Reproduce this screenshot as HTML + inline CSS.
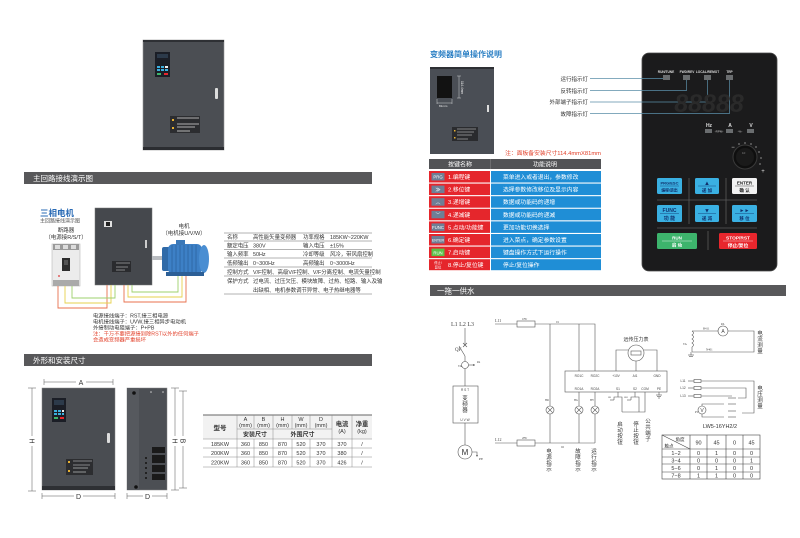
<!DOCTYPE html>
<html><head><meta charset="utf-8"><style>
html,body{margin:0;padding:0;background:#fff;width:800px;height:538px;overflow:hidden}
svg{display:block}
text{font-family:"Liberation Sans","Noto Sans CJK SC",sans-serif}
.s{font-family:"Liberation Serif","Noto Serif CJK SC",serif}
</style></head><body>
<svg width="800" height="538" viewBox="0 0 800 538" xmlns="http://www.w3.org/2000/svg">
<rect width="800" height="538" fill="#fff"/>

<!-- ===== LEFT PAGE ===== -->
<!-- top cabinet -->
<rect x="143" y="40" width="81" height="110" fill="#4b4e53" stroke="#9a9a9a" stroke-width="0.6"/>
<rect x="143" y="40" width="81" height="2" fill="#2e3034"/>
<rect x="143" y="147" width="81" height="3" fill="#2b2d31"/>
<rect x="155" y="52" width="15" height="25" fill="#1b1e26"/>
<rect x="157" y="54" width="11" height="4" fill="#2c3a4a"/>
<g fill="#3bb0e0"><rect x="157" y="66" width="3" height="2"/><rect x="161" y="66" width="3" height="2"/><rect x="157" y="69" width="3" height="2"/><rect x="161" y="69" width="3" height="2"/></g>
<rect x="165" y="66" width="3" height="2" fill="#eee"/><rect x="165" y="69" width="3" height="2" fill="#3bb0e0"/>
<rect x="157" y="73" width="4" height="2" fill="#3fb56b"/><rect x="164" y="73" width="4" height="2" fill="#e8262d"/>
<rect x="215" y="88" width="3" height="11" rx="1" fill="#ddd"/>
<rect x="170" y="116" width="30" height="17" fill="#2c2d30"/>
<g stroke="#ddd" stroke-width="0.8"><line x1="177" y1="118" x2="199" y2="118"/><line x1="177" y1="124" x2="199" y2="124"/><line x1="177" y1="127" x2="195" y2="127"/><line x1="177" y1="131" x2="190" y2="131"/></g>
<rect x="172" y="119" width="2" height="2" fill="#e8b030"/><rect x="172" y="127" width="2" height="2" fill="#e8b030"/>

<!-- header bar 1 -->
<rect x="24" y="172" width="348" height="12" fill="#58585a"/>
<text x="33" y="181" font-size="7.5" fill="#fff">主回路接线演示图</text>

<!-- wiring demo -->
<text x="40" y="216" font-size="8.5" font-weight="bold" fill="#2a6bb5">三相电机</text>
<text x="40" y="222.5" font-size="5" fill="#555">主回路接线演示图</text>
<text x="66" y="232" font-size="5.5" fill="#333" text-anchor="middle">断路器</text>
<text x="66" y="239" font-size="5.5" fill="#333" text-anchor="middle">（电源接R/S/T）</text>
<!-- breaker -->
<rect x="52" y="244" width="28" height="42" fill="#ececec" stroke="#b8b8b8" stroke-width="0.6"/>
<rect x="53" y="244" width="26" height="6" fill="#9a9a9a"/>
<rect x="55" y="245" width="5" height="4" fill="#ddd"/><rect x="63" y="245" width="5" height="4" fill="#ddd"/><rect x="71" y="245" width="5" height="4" fill="#ddd"/>
<rect x="62" y="258" width="8" height="13" fill="#2e2e2e"/>
<rect x="64" y="260" width="4" height="5" fill="#555"/>
<circle cx="59" cy="276" r="0.9" fill="#d33"/>
<rect x="53" y="280" width="26" height="6" fill="#aaa"/>
<!-- cabinet -->
<rect x="95" y="208" width="57" height="77" fill="#45484d" stroke="#777" stroke-width="0.5"/>
<rect x="104" y="221" width="8" height="6" fill="#e0e0e0"/><rect x="106" y="222" width="4" height="4" fill="#222"/>
<rect x="145" y="240" width="2" height="8" fill="#ccc"/>
<rect x="112" y="261" width="19" height="11" fill="#2a2b2e"/>
<g stroke="#ddd" stroke-width="0.5"><line x1="116" y1="263" x2="130" y2="263"/><line x1="116" y1="267" x2="128" y2="267"/><line x1="116" y1="270" x2="125" y2="270"/></g>
<!-- motor -->
<text x="184" y="228" font-size="5.5" fill="#333" text-anchor="middle">电机</text>
<text x="184" y="235" font-size="5.5" fill="#333" text-anchor="middle">（电机接U/V/W）</text>
<rect x="152" y="256" width="12" height="4" fill="#b9bcc0"/>
<rect x="162" y="247" width="8" height="24" rx="2" fill="#2f6aa8"/>
<rect x="168" y="244" width="34" height="30" rx="5" fill="#3d80c6"/>
<g stroke="#2d64a0" stroke-width="0.8"><line x1="172" y1="245" x2="172" y2="273"/><line x1="176" y1="245" x2="176" y2="273"/><line x1="180" y1="245" x2="180" y2="273"/><line x1="184" y1="245" x2="184" y2="273"/><line x1="188" y1="245" x2="188" y2="273"/><line x1="192" y1="245" x2="192" y2="273"/><line x1="196" y1="245" x2="196" y2="273"/></g>
<ellipse cx="204" cy="259" rx="5" ry="14" fill="#4a8ed2"/>
<rect x="176" y="240" width="9" height="5" fill="#3a78b8"/>
<rect x="166" y="272" width="38" height="4" fill="#2c5f96"/>
<!-- wires -->
<g fill="none" stroke-width="0.9">
<polyline points="58,286 58,308 107,308 107,285" stroke="#e8704e"/>
<polyline points="65,286 65,303 111,303 111,285" stroke="#e6d14c"/>
<polyline points="72,286 72,298 115,298 115,285" stroke="#9ed06c"/>
<polyline points="124,285 124,302 186,302 186,276" stroke="#e8704e"/>
<polyline points="128,285 128,297 182,297 182,276" stroke="#e6d14c"/>
<polyline points="132,285 132,292 178,292 178,276" stroke="#9ed06c"/>
</g>
<g font-size="5.3" fill="#333">
<text x="93" y="317.5">电源接线端子：RST,接三相电源</text>
<text x="93" y="323.5">电机接线端子：UVW,接三相异步电动机</text>
<text x="93" y="329.5">外接制动电阻端子：P+PB</text>
<text x="93" y="335.5" fill="#e2402a">注：千万不要把源接到除RST以外的任何端子</text>
<text x="93" y="341.5" fill="#e2402a">会造成变频器严重损坏</text>
</g>
<!-- spec table -->
<g stroke="#666" stroke-width="0.5">
<line x1="224" y1="233" x2="372" y2="233"/><line x1="224" y1="241" x2="372" y2="241"/><line x1="224" y1="249.5" x2="372" y2="249.5"/><line x1="224" y1="258" x2="372" y2="258"/><line x1="224" y1="267" x2="372" y2="267"/><line x1="224" y1="276" x2="372" y2="276"/><line x1="224" y1="294" x2="372" y2="294"/>
</g>
<g font-size="5.4" fill="#333">
<text x="227" y="239">名称</text><text x="253" y="239">高性能矢量变频器</text><text x="303" y="239">功率规格</text><text x="330" y="239">185KW~220KW</text>
<text x="227" y="247.5">额定电压</text><text x="253" y="247.5">380V</text><text x="303" y="247.5">输入电压</text><text x="330" y="247.5">±15%</text>
<text x="227" y="256">输入频率</text><text x="253" y="256">50Hz</text><text x="303" y="256">冷却等级</text><text x="330" y="256">风冷，带风扇控制</text>
<text x="227" y="265">低频输出</text><text x="253" y="265">0~300Hz</text><text x="303" y="265">高频输出</text><text x="330" y="265">0~3000Hz</text>
<text x="227" y="274">控制方式</text><text x="253" y="274">V/F控制、高级V/F控制、V/F分离控制、电流矢量控制</text>
<text x="227" y="283">保护方式</text><text x="253" y="283">过电流、过压欠压、模块故障、过热、短路、输入及输</text>
<text x="253" y="292">出缺相、电机参数调节异常、电子热继电器等</text>
</g>

<!-- header bar 2 -->
<rect x="24" y="354" width="348" height="12" fill="#58585a"/>
<text x="33" y="363" font-size="7.5" fill="#fff">外形和安装尺寸</text>

<!-- dimension front -->
<rect x="42" y="388" width="73" height="102" fill="#4a4d52" stroke="#888" stroke-width="0.5"/>
<rect x="42" y="486" width="73" height="4" fill="#2e3034"/>
<rect x="52" y="398" width="14" height="24" fill="#1b1e26"/>
<rect x="54" y="400" width="10" height="5" fill="#2c3a4a"/>
<g fill="#3bb0e0"><rect x="54" y="410" width="3" height="2"/><rect x="58" y="410" width="3" height="2"/><rect x="54" y="413" width="3" height="2"/><rect x="58" y="413" width="3" height="2"/><rect x="62" y="413" width="2" height="2"/></g>
<rect x="62" y="410" width="2" height="2" fill="#eee"/>
<rect x="54" y="417" width="4" height="2" fill="#3fb56b"/><rect x="60" y="417" width="4" height="2" fill="#e8262d"/>
<rect x="107" y="433" width="3" height="10" rx="1" fill="#ddd"/>
<rect x="66" y="459" width="27" height="16" fill="#2c2d30"/>
<g stroke="#ddd" stroke-width="0.6"><line x1="73" y1="461" x2="92" y2="461"/><line x1="73" y1="465" x2="90" y2="465"/><line x1="73" y1="468" x2="88" y2="468"/><line x1="73" y1="472" x2="86" y2="472"/></g>
<rect x="68" y="461" width="2" height="2" fill="#e8b030"/><rect x="68" y="470" width="2" height="2" fill="#e8b030"/>
<!-- dims -->
<g stroke="#555" stroke-width="0.5" fill="none">
<line x1="44" y1="382" x2="76" y2="382"/><line x1="86" y1="382" x2="113" y2="382"/><line x1="44" y1="379" x2="44" y2="385"/><line x1="113" y1="379" x2="113" y2="385"/>
<line x1="32" y1="388" x2="32" y2="436"/><line x1="32" y1="446" x2="32" y2="491"/><line x1="28" y1="388" x2="36" y2="388"/><line x1="28" y1="491" x2="36" y2="491"/>
<line x1="42" y1="496" x2="74" y2="496"/><line x1="83" y1="496" x2="115" y2="496"/><line x1="42" y1="493" x2="42" y2="499"/><line x1="115" y1="493" x2="115" y2="499"/>
<line x1="127" y1="496" x2="143" y2="496"/><line x1="152" y1="496" x2="167" y2="496"/><line x1="127" y1="493" x2="127" y2="499"/><line x1="167" y1="493" x2="167" y2="499"/>
<line x1="175" y1="388" x2="175" y2="436"/><line x1="175" y1="446" x2="175" y2="490"/><line x1="171" y1="388" x2="179" y2="388"/><line x1="171" y1="490" x2="179" y2="490"/>
<line x1="183" y1="391" x2="183" y2="436"/><line x1="183" y1="446" x2="183" y2="488"/><line x1="179" y1="391" x2="187" y2="391"/><line x1="179" y1="488" x2="187" y2="488"/>
</g>
<g font-size="7" fill="#333">
<text x="81" y="385" text-anchor="middle">A</text>
<text x="78.5" y="499" text-anchor="middle">D</text>
<text x="147.5" y="499" text-anchor="middle">D</text>
<text transform="translate(29.5,441) rotate(90)" text-anchor="middle">H</text>
<text transform="translate(172.5,441) rotate(90)" text-anchor="middle">H</text>
<text transform="translate(180.5,441) rotate(90)" text-anchor="middle">B</text>
</g>
<!-- side view -->
<rect x="127" y="388" width="40" height="102" fill="#4c4f54" stroke="#888" stroke-width="0.5"/>
<rect x="127" y="388" width="12" height="102" fill="#56595e"/>
<circle cx="134" cy="393" r="1.8" fill="#111"/><circle cx="136" cy="487" r="1.8" fill="#111"/>
<circle cx="151" cy="392" r="0.8" fill="#ccc"/><circle cx="163" cy="392" r="0.8" fill="#ccc"/>
<rect x="152" y="447" width="13" height="6" fill="#1a1a1a"/><rect x="152" y="455" width="13" height="8" fill="#1a1a1a"/><rect x="152" y="465" width="13" height="7" fill="#1a1a1a"/><rect x="152" y="474" width="13" height="6" fill="#1a1a1a"/>
<g fill="#222"><rect x="145" y="457" width="2" height="2"/><rect x="145" y="462" width="2" height="2"/><rect x="145" y="467" width="2" height="2"/><rect x="145" y="472" width="2" height="2"/><rect x="145" y="477" width="2" height="2"/></g>
<!-- dimension table -->
<rect x="203" y="415" width="169" height="24" fill="#f2f2f2"/>
<g stroke="#888" stroke-width="0.5" fill="none">
<line x1="203" y1="415" x2="372" y2="415" stroke="#666" stroke-width="1"/>
<line x1="237" y1="429" x2="332" y2="429"/>
<line x1="203" y1="439" x2="372" y2="439"/><line x1="203" y1="448" x2="372" y2="448"/><line x1="203" y1="457" x2="372" y2="457"/><line x1="203" y1="467" x2="372" y2="467"/>
<line x1="237" y1="415" x2="237" y2="467"/><line x1="254" y1="415" x2="254" y2="429"/><line x1="254" y1="439" x2="254" y2="467"/>
<line x1="273" y1="415" x2="273" y2="467"/><line x1="292" y1="415" x2="292" y2="429"/><line x1="292" y1="439" x2="292" y2="467"/>
<line x1="310" y1="415" x2="310" y2="429"/><line x1="310" y1="439" x2="310" y2="467"/>
<line x1="332" y1="415" x2="332" y2="467"/><line x1="352" y1="415" x2="352" y2="467"/>
</g>
<g font-size="5.5" fill="#333" text-anchor="middle">
<text x="220" y="430" font-size="6.5" font-weight="bold">型号</text>
<text x="245.5" y="421">A</text><text x="245.5" y="427">(mm)</text>
<text x="263.5" y="421">B</text><text x="263.5" y="427">(mm)</text>
<text x="282.5" y="421">H</text><text x="282.5" y="427">(mm)</text>
<text x="301" y="421">W</text><text x="301" y="427">(mm)</text>
<text x="321" y="421">D</text><text x="321" y="427">(mm)</text>
<text x="342" y="426" font-size="6.3" font-weight="bold">电流</text><text x="342" y="433">(A)</text>
<text x="362" y="426" font-size="6.3" font-weight="bold">净重</text><text x="362" y="433">(kg)</text>
<text x="255" y="436.5" font-size="6" font-weight="bold">安装尺寸</text>
<text x="302.5" y="436.5" font-size="6" font-weight="bold">外围尺寸</text>
<text x="220" y="446">185KW</text><text x="245.5" y="446">360</text><text x="263.5" y="446">850</text><text x="282.5" y="446">870</text><text x="301" y="446">520</text><text x="321" y="446">370</text><text x="342" y="446">370</text><text x="362" y="446">/</text>
<text x="220" y="455">200KW</text><text x="245.5" y="455">360</text><text x="263.5" y="455">850</text><text x="282.5" y="455">870</text><text x="301" y="455">520</text><text x="321" y="455">370</text><text x="342" y="455">380</text><text x="362" y="455">/</text>
<text x="220" y="464.5">220KW</text><text x="245.5" y="464.5">360</text><text x="263.5" y="464.5">850</text><text x="282.5" y="464.5">870</text><text x="301" y="464.5">520</text><text x="321" y="464.5">370</text><text x="342" y="464.5">426</text><text x="362" y="464.5">/</text>
</g>

<!-- ===== RIGHT PAGE ===== -->
<text x="430" y="57" font-size="8" font-weight="bold" fill="#2a7fc4">变频器简单操作说明</text>
<!-- cabinet -->
<rect x="430" y="67" width="64" height="87" fill="#4a4e55"/>
<rect x="430" y="67" width="64" height="2" fill="#2e3034"/>
<rect x="437" y="76" width="15" height="22" fill="#121212"/>
<g stroke="#eee" stroke-width="0.4" fill="none"><line x1="459" y1="76" x2="459" y2="98"/><line x1="457" y1="76" x2="461" y2="76"/><line x1="457" y1="98" x2="461" y2="98"/><line x1="437" y1="103" x2="452" y2="103"/><line x1="437" y1="99" x2="437" y2="104"/><line x1="452" y1="99" x2="452" y2="104"/></g>
<text transform="translate(461,81) rotate(90)" font-size="3.2" fill="#eee">114.4mm</text>
<text x="439" y="107" font-size="3" fill="#eee">81mm</text>
<rect x="487" y="105" width="2" height="7" fill="#ddd"/>
<rect x="452" y="127" width="26" height="14" fill="#2a2b2e"/>
<g stroke="#ddd" stroke-width="0.5"><line x1="457" y1="129" x2="476" y2="129"/><line x1="457" y1="132" x2="474" y2="132"/><line x1="457" y1="135" x2="472" y2="135"/><line x1="457" y1="139" x2="468" y2="139"/></g>
<rect x="454" y="130" width="1.5" height="1.5" fill="#e8b030"/><rect x="454" y="137" width="1.5" height="1.5" fill="#e8b030"/>
<!-- indicator labels -->
<g font-size="5.5" fill="#333" text-anchor="end">
<text x="588" y="81">运行指示灯</text>
<text x="588" y="93">反转指示灯</text>
<text x="588" y="104">外部端子指示灯</text>
<text x="588" y="116">故障指示灯</text>
</g>
<text x="601" y="155" font-size="5.8" fill="#e2402a" text-anchor="end">注：面板备安装尺寸114.4mmX81mm</text>
<!-- key table -->
<rect x="429" y="159" width="172" height="10" fill="#525356"/>
<line x1="490.5" y1="159" x2="490.5" y2="169" stroke="#888" stroke-width="0.5"/>
<text x="460" y="166.5" font-size="6" fill="#fff" text-anchor="middle">按键名称</text>
<text x="545" y="166.5" font-size="6" fill="#fff" text-anchor="middle">功能说明</text>
<g>
<rect x="429" y="171" width="61" height="11.5" fill="#e5262c"/><rect x="491" y="171" width="110" height="11.5" fill="#1f8ed6"/>
<rect x="429" y="183.6" width="61" height="11.5" fill="#e5262c"/><rect x="491" y="183.6" width="110" height="11.5" fill="#1f8ed6"/>
<rect x="429" y="196.2" width="61" height="11.5" fill="#e5262c"/><rect x="491" y="196.2" width="110" height="11.5" fill="#1f8ed6"/>
<rect x="429" y="208.8" width="61" height="11.5" fill="#e5262c"/><rect x="491" y="208.8" width="110" height="11.5" fill="#1f8ed6"/>
<rect x="429" y="221.4" width="61" height="11.5" fill="#e5262c"/><rect x="491" y="221.4" width="110" height="11.5" fill="#1f8ed6"/>
<rect x="429" y="234" width="61" height="11.5" fill="#e5262c"/><rect x="491" y="234" width="110" height="11.5" fill="#1f8ed6"/>
<rect x="429" y="246.6" width="61" height="11.5" fill="#e5262c"/><rect x="491" y="246.6" width="110" height="11.5" fill="#1f8ed6"/>
<rect x="429" y="259.2" width="61" height="11" fill="#e5262c"/><rect x="491" y="259.2" width="110" height="11" fill="#1f8ed6"/>
</g>
<g fill="#6e7f96">
<rect x="431.5" y="173" width="13" height="7.5"/><rect x="431.5" y="185.6" width="13" height="7.5"/><rect x="431.5" y="198.2" width="13" height="7.5"/><rect x="431.5" y="210.8" width="13" height="7.5"/><rect x="431.5" y="223.4" width="13" height="7.5"/><rect x="431.5" y="236" width="13" height="7.5"/>
</g>
<rect x="431.5" y="248.6" width="13" height="7.5" fill="#5cc04a"/>
<g font-size="4.3" fill="#fff" text-anchor="middle">
<text x="438" y="178.6">PRG</text>
<text x="438" y="191.5" font-size="5" font-weight="bold">≫</text>
<text x="438" y="204" font-size="5">︿</text>
<text x="438" y="216.5" font-size="5">﹀</text>
<text x="438" y="229">FUNC</text>
<text x="438" y="241.5" font-size="3.6">ENTER</text>
<text x="438" y="254.3">RUN</text>
<text x="438" y="263.8" font-size="3.3">停止/</text><text x="438" y="268.3" font-size="3.3">复位</text>
</g>
<g font-size="5.8" fill="#fff">
<text x="448" y="179">1.编程键</text><text x="503" y="179">菜单进入或者退出，参数修改</text>
<text x="448" y="191.6">2.移位键</text><text x="503" y="191.6">选择参数修改移位及显示内容</text>
<text x="448" y="204.2">3.递增键</text><text x="503" y="204.2">数据或功能码的递增</text>
<text x="448" y="216.8">4.递减键</text><text x="503" y="216.8">数据或功能码的递减</text>
<text x="448" y="229.4">5.点动/功能键</text><text x="503" y="229.4">更加功能切换选择</text>
<text x="448" y="242">6.确定键</text><text x="503" y="242">进入菜点，确定参数设置</text>
<text x="448" y="254.6">7.启动键</text><text x="503" y="254.6">键盘操作方式下运行操作</text>
<text x="448" y="267">8.停止/复位键</text><text x="503" y="267">停止/复位操作</text>
</g>

<!-- keypad -->
<rect x="642" y="53" width="135" height="218" rx="7" fill="#1b1b1c" stroke="#4a4a4a" stroke-width="0.8"/>
<g font-size="3.2" fill="#ddd" font-weight="bold" text-anchor="middle">
<text x="666" y="73">RUN/TUNE</text><text x="687" y="73">FWD/REV</text><text x="707.5" y="73">LOCAL/REMOT</text><text x="729.5" y="73">TRP</text>
</g>
<g fill="#6a6d6f"><rect x="663" y="75" width="7" height="5"/><rect x="683" y="75" width="7" height="5"/><rect x="704" y="75" width="7" height="5"/><rect x="726" y="75" width="7" height="5"/></g>
<g stroke="#5b8fa8" stroke-width="0.7" fill="none">
<polyline points="590,78.5 663,78.5"/>
<polyline points="590,90.5 686.5,90.5 686.5,80"/>
<polyline points="590,102 707.5,102 707.5,80"/>
<polyline points="590,113.5 729.5,113.5 729.5,80"/>
</g>
<text x="709" y="112" font-size="25" font-weight="bold" fill="#2a2a2a" text-anchor="middle" font-style="italic" font-family="Liberation Mono,monospace">88888</text>
<g font-size="5" fill="#ddd" font-weight="bold" text-anchor="middle"><text x="709" y="127">Hz</text><text x="730" y="127">A</text><text x="751" y="127">V</text></g>
<g fill="#6a6d6f"><rect x="705" y="129" width="7" height="4"/><rect x="726" y="129" width="7" height="4"/><rect x="747" y="129" width="7" height="4"/></g>
<g font-size="3" fill="#ccc" text-anchor="middle"><text x="719" y="132.5">-RPM-</text><text x="740" y="132.5">-%-</text></g>
<!-- knob -->
<circle cx="745" cy="157" r="12" fill="#0f0f0f" stroke="#3a3a3a" stroke-width="1"/>
<circle cx="745" cy="157" r="9" fill="#1a1a1a"/>
<text x="742" y="154" font-size="3" fill="#888">10</text>
<text x="733" y="149" font-size="6" fill="#ddd" text-anchor="middle">−</text>
<text x="763" y="173" font-size="6" fill="#ddd" text-anchor="middle">+</text>
<g fill="#ddd"><circle cx="739" cy="144" r="0.6"/><circle cx="745" cy="143" r="0.6"/><circle cx="751" cy="144" r="0.6"/><circle cx="756" cy="147" r="0.6"/><circle cx="759" cy="152" r="0.6"/><circle cx="761" cy="158" r="0.6"/><circle cx="760" cy="164" r="0.6"/></g>
<!-- separators -->
<g stroke="#5a5a5a" stroke-width="0.8"><line x1="657" y1="200" x2="757" y2="200"/><line x1="657" y1="228" x2="757" y2="228"/><line x1="689" y1="178" x2="689" y2="224"/><line x1="726" y1="178" x2="726" y2="224"/><line x1="708" y1="231" x2="708" y2="250"/></g>
<!-- buttons -->
<g>
<rect x="657" y="178" width="25" height="16" rx="1.5" fill="#3ab0e2"/>
<rect x="695" y="178" width="24" height="16" rx="1.5" fill="#3ab0e2"/>
<rect x="732" y="178" width="25" height="16" rx="1.5" fill="#f2f2f2"/>
<rect x="657" y="205" width="25" height="17" rx="1.5" fill="#3ab0e2"/>
<rect x="695" y="205" width="24" height="17" rx="1.5" fill="#3ab0e2"/>
<rect x="732" y="205" width="25" height="17" rx="1.5" fill="#3ab0e2"/>
<rect x="657" y="233" width="40" height="16" rx="1.5" fill="#3db46c"/>
<rect x="719" y="233" width="38" height="16" rx="1.5" fill="#e8262d"/>
</g>
<g stroke="#10306c" stroke-width="0.4"><line x1="660" y1="186" x2="679" y2="186"/><line x1="698" y1="186" x2="716" y2="186"/><line x1="660" y1="213.5" x2="679" y2="213.5"/><line x1="698" y1="213.5" x2="716" y2="213.5"/><line x1="735" y1="213.5" x2="754" y2="213.5"/></g>
<line x1="735" y1="186" x2="754" y2="186" stroke="#222" stroke-width="0.4"/>
<line x1="662" y1="241" x2="692" y2="241" stroke="#fff" stroke-width="0.4"/>
<line x1="723" y1="241" x2="753" y2="241" stroke="#fff" stroke-width="0.4"/>
<g text-anchor="middle" font-weight="bold">
<text x="669.5" y="184.5" font-size="4" fill="#10306c">PRG/ESC</text>
<text x="669.5" y="191.5" font-size="3.8" fill="#10306c">编程/退出</text>
<text x="707" y="185" font-size="6" fill="#10306c">▲</text>
<text x="707" y="192" font-size="4.5" fill="#10306c">递 加</text>
<text x="744.5" y="184.5" font-size="4.5" fill="#222">ENTER</text>
<text x="744.5" y="192" font-size="4.5" fill="#222">确 认</text>
<text x="669.5" y="212" font-size="5" fill="#10306c">FUNC</text>
<text x="669.5" y="220" font-size="5" fill="#10306c">功 能</text>
<text x="707" y="212.5" font-size="6" fill="#10306c">▼</text>
<text x="707" y="220" font-size="4.5" fill="#10306c">递 减</text>
<text x="744.5" y="212" font-size="5" fill="#10306c">►►</text>
<text x="744.5" y="220" font-size="4.5" fill="#10306c">移 位</text>
<text x="677" y="239.5" font-size="4.5" fill="#fff">RUN</text>
<text x="677" y="246.5" font-size="4.5" fill="#fff">启 动</text>
<text x="738" y="239.5" font-size="4.8" fill="#fff">STOP/RST</text>
<text x="738" y="246.8" font-size="4.8" fill="#fff">停止/复位</text>
</g>

<!-- header bar 3 -->
<rect x="430" y="285" width="356" height="11" fill="#58585a"/>
<text x="437" y="293.5" font-size="7.5" fill="#fff">一拖一供水</text>

<!-- circuit -->
<g stroke="#555" stroke-width="0.6" fill="none">
<!-- main power -->
<line x1="465" y1="328" x2="465" y2="345"/>
<line x1="463" y1="343" x2="467" y2="347"/><line x1="467" y1="343" x2="463" y2="347"/>
<line x1="459" y1="346" x2="465" y2="356"/>
<line x1="465" y1="356" x2="465" y2="361.5"/>
<circle cx="465" cy="365" r="3.5"/>
<line x1="468.5" y1="365" x2="475" y2="365"/>
<line x1="465" y1="368.5" x2="465" y2="386"/>
<rect x="453" y="386" width="25" height="37"/>
<line x1="465" y1="423" x2="465" y2="445"/>
<circle cx="465" cy="452" r="7"/>
<polyline points="472,452 477,452 477,456"/>
<!-- control top line -->
<line x1="495" y1="324" x2="517" y2="324"/>
<rect x="517" y="321" width="18" height="6"/>
<polyline points="535,324 595,324 595,371"/>
<line x1="579" y1="324" x2="579" y2="371"/>
<line x1="550" y1="324" x2="550" y2="443"/>
<line x1="495" y1="443" x2="517" y2="443"/>
<rect x="517" y="440" width="18" height="6"/>
<line x1="535" y1="443" x2="595" y2="443"/>
<line x1="579" y1="392" x2="579" y2="443"/>
<line x1="595" y1="392" x2="595" y2="443"/>
<!-- controller box -->
<rect x="565" y="371" width="102" height="21"/>
<!-- gauge -->
<circle cx="636" cy="353" r="8"/>
<rect x="631" y="351" width="10" height="4"/>
<polyline points="616,371 616,350 628,350"/>
<polyline points="657,371 657,350 644,350"/>
<line x1="636" y1="361" x2="636" y2="371"/>
<!-- buttons -->
<polyline points="618,392 618,397 614,397 614,400"/>
<polyline points="635,392 635,397 631,397 631,400"/>
<line x1="610" y1="400" x2="614" y2="400"/><line x1="627" y1="400" x2="631" y2="400"/>
<polyline points="618,397 622,397 622,404"/>
<polyline points="635,397 639,397 639,404"/>
<line x1="622" y1="404" x2="622" y2="412"/><line x1="639" y1="404" x2="639" y2="412"/>
<polyline points="645,392 645,412 622,412"/>
<!-- PE ground -->
<line x1="659" y1="392" x2="659" y2="395"/>
<line x1="656" y1="395" x2="662" y2="395"/><line x1="657" y1="396.5" x2="661" y2="396.5"/><line x1="658" y1="398" x2="660" y2="398"/>
<!-- ammeter -->
<line x1="692" y1="331" x2="718" y2="331"/>
<circle cx="723" cy="331" r="5"/>
<polyline points="728,331 754,331 754,352 692,352"/>
<path d="M692,331 q3,2 0,4 q3,2 0,4 q3,2 0,4 q3,2 0,4"/>
<line x1="692" y1="347" x2="692" y2="352"/>
<line x1="688" y1="355" x2="694" y2="355"/><line x1="689" y1="356.5" x2="693" y2="356.5"/>
<line x1="691" y1="352" x2="691" y2="355"/>
<!-- voltmeter switch -->
<line x1="688" y1="381" x2="694" y2="381"/><rect x="694" y="379.5" width="7" height="3"/><polyline points="701,381 754,381 754,413 742,413"/>
<line x1="688" y1="388" x2="694" y2="388"/><rect x="694" y="386.5" width="7" height="3"/><polyline points="701,388 746,388 746,398 738,398"/>
<line x1="688" y1="396" x2="694" y2="396"/><rect x="694" y="394.5" width="7" height="3"/><polyline points="701,396 732,396"/>
<polyline points="706,404 724,404"/><polyline points="702,406 702,404 706,404"/>
<circle cx="702" cy="410" r="4"/>
<polyline points="702,414 702,417 724,417"/>
<line x1="728" y1="398" x2="736" y2="398"/><line x1="728" y1="404" x2="736" y2="404"/><line x1="728" y1="411" x2="736" y2="411"/><line x1="728" y1="417" x2="736" y2="417"/>
</g>
<!-- lamps -->
<g stroke="#555" stroke-width="0.6" fill="#fff">
<circle cx="550" cy="410" r="4"/><circle cx="579" cy="410" r="4"/><circle cx="595" cy="410" r="4"/>
</g>
<g stroke="#555" stroke-width="0.6">
<line x1="547.2" y1="407.2" x2="552.8" y2="412.8"/><line x1="552.8" y1="407.2" x2="547.2" y2="412.8"/>
<line x1="576.2" y1="407.2" x2="581.8" y2="412.8"/><line x1="581.8" y1="407.2" x2="576.2" y2="412.8"/>
<line x1="592.2" y1="407.2" x2="597.8" y2="412.8"/><line x1="597.8" y1="407.2" x2="592.2" y2="412.8"/>
</g>
<g fill="#555"><polygon points="477,457 476,455 478,455"/><polygon points="475,365 473,364 473,366"/></g>
<!-- circuit texts -->
<g class="s" fill="#444" font-size="6">
<text x="451" y="326" class="s">L1 L2 L3</text>
<text x="455" y="351" class="s" font-size="5">QF</text>
<text x="458" y="367" class="s" font-size="3">TA</text>
<text x="477" y="363" class="s" font-size="2.8">PA</text>
<text x="479" y="460" class="s" font-size="3.5">PE</text>
<text x="495" y="322" class="s" font-size="4">L11</text>
<text x="522" y="320" class="s" font-size="3">1FU</text>
<text x="556" y="323" class="s" font-size="3">01</text>
<text x="495" y="441" class="s" font-size="4">L12</text>
<text x="522" y="439" class="s" font-size="3">2FU</text>
<text x="561" y="448" class="s" font-size="3">02</text>
<text x="545" y="401" class="s" font-size="2.8">HR</text>
<text x="574" y="401" class="s" font-size="2.8">HG</text>
<text x="590" y="401" class="s" font-size="2.8">HY</text>
<text x="608" y="398" class="s" font-size="2.5">SB</text>
<text x="624" y="398" class="s" font-size="2.5">SB1</text>
<text x="703" y="329.5" class="s" font-size="3">B411</text>
<text x="721" y="325" class="s" font-size="3">PA</text>
<text x="683" y="345" class="s" font-size="3">TA</text>
<text x="706" y="350.5" class="s" font-size="3">N401</text>
<text x="695" y="413" class="s" font-size="3">PV</text>
</g>
<g font-size="3.2" fill="#444" text-anchor="middle">
<text x="579" y="377">RO1C</text><text x="595" y="377">RO2C</text><text x="616" y="377">+10V</text><text x="635" y="377">AI1</text><text x="657" y="377">GND</text>
<text x="579" y="390">RO1A</text><text x="595" y="390">RO2A</text><text x="618" y="390">S1</text><text x="635" y="390">S2</text><text x="645" y="390">COM</text><text x="659" y="390">PE</text>
<text x="465" y="391">R  S  T</text><text x="465" y="421">U  V  W</text>
<text x="683" y="382">L11</text><text x="683" y="389">L12</text><text x="683" y="397">L13</text>
<text x="723" y="333.2" font-size="5">A</text>
<text x="702" y="412" font-size="5">V</text>
</g>
<text x="465" y="455" font-size="8" fill="#333" text-anchor="middle">M</text>
<text x="636" y="341" font-size="5" fill="#333" text-anchor="middle">远传压力表</text>
<g font-size="5.5" fill="#333" text-anchor="middle">
<text x="465" y="400">变</text><text x="465" y="406">频</text><text x="465" y="412">器</text>
<text x="549" y="453">电</text><text x="549" y="459">源</text><text x="549" y="465">指</text><text x="549" y="471">示</text>
<text x="578" y="453">故</text><text x="578" y="459">障</text><text x="578" y="465">指</text><text x="578" y="471">示</text>
<text x="594" y="453">运</text><text x="594" y="459">行</text><text x="594" y="465">指</text><text x="594" y="471">示</text>
<text x="620" y="426">启</text><text x="620" y="432">动</text><text x="620" y="438">按</text><text x="620" y="444">钮</text>
<text x="636" y="426">停</text><text x="636" y="432">止</text><text x="636" y="438">按</text><text x="636" y="444">钮</text>
<text x="648" y="423">公</text><text x="648" y="429">共</text><text x="648" y="435">端</text><text x="648" y="441">子</text>
<text x="760" y="335">电</text><text x="760" y="341">流</text><text x="760" y="347">测</text><text x="760" y="353">量</text>
<text x="760" y="390">电</text><text x="760" y="396">压</text><text x="760" y="402">测</text><text x="760" y="408">量</text>
</g>
<text x="720" y="428" font-size="5.5" fill="#333" text-anchor="middle">LW5-16YH2/2</text>
<!-- switch table -->
<g stroke="#444" stroke-width="0.6" fill="none">
<rect x="662" y="435" width="98" height="44"/>
<line x1="662" y1="449" x2="760" y2="449"/><line x1="662" y1="457" x2="760" y2="457"/><line x1="662" y1="464" x2="760" y2="464"/><line x1="662" y1="472" x2="760" y2="472"/>
<line x1="690" y1="435" x2="690" y2="479"/><line x1="707" y1="435" x2="707" y2="479"/><line x1="726" y1="435" x2="726" y2="479"/><line x1="743" y1="435" x2="743" y2="479"/>
<line x1="662" y1="435" x2="690" y2="449"/>
</g>
<g font-size="5.5" fill="#333" text-anchor="middle">
<text x="680" y="441" font-size="4.5">角度</text><text x="669" y="447.5" font-size="4.5">触点</text>
<text x="698.5" y="444.5">90</text><text x="716.5" y="444.5">45</text><text x="734.5" y="444.5">0</text><text x="751.5" y="444.5">45</text>
<text x="676" y="455">1−2</text><text x="698.5" y="455">0</text><text x="716.5" y="455">1</text><text x="734.5" y="455">0</text><text x="751.5" y="455">0</text>
<text x="676" y="462.5">3−4</text><text x="698.5" y="462.5">0</text><text x="716.5" y="462.5">0</text><text x="734.5" y="462.5">0</text><text x="751.5" y="462.5">1</text>
<text x="676" y="470">5−6</text><text x="698.5" y="470">0</text><text x="716.5" y="470">1</text><text x="734.5" y="470">0</text><text x="751.5" y="470">0</text>
<text x="676" y="477.5">7−8</text><text x="698.5" y="477.5">1</text><text x="716.5" y="477.5">1</text><text x="734.5" y="477.5">0</text><text x="751.5" y="477.5">0</text>
</g>
</svg>
</body></html>
